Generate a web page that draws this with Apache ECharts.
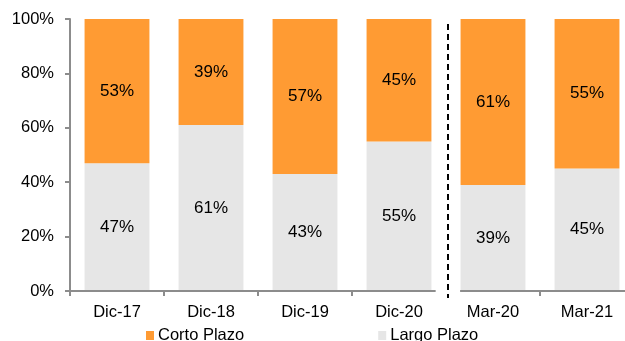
<!DOCTYPE html>
<html><head><meta charset="utf-8">
<script src="https://cdn.jsdelivr.net/npm/echarts@6/dist/echarts.min.js"></script>
<style>html,body{margin:0;padding:0;background:#fff}#c{width:625px;height:341px}</style>
</head><body><div id="c"></div>
<script>
const categories = ['Dic-17','Dic-18','Dic-19','Dic-20','Mar-20','Mar-21'];
const largoPlazo = [47, 61, 43, 55, 39, 45];
const cortoPlazo = [53, 39, 57, 45, 61, 55];

const FONT = 'Liberation Sans, Arial, sans-serif';
const FS = 16.5;
const LFS = 17;
const AXIS_COLOR = '#8c8c8c';

const chart = echarts.init(document.getElementById('c'), null, {renderer:'canvas'});
const pct = p => p.value + '%';
chart.setOption({
  animation: false,
  textStyle: {fontFamily: FONT},
  grid: {left: 70, top: 19, width: 564, height: 272, containLabel: false, outerBoundsMode: 'none'},
  legend: {
    data: ['Corto Plazo','Largo Plazo'],
    left: 146, top: 327, icon: 'rect', itemWidth: 8, itemHeight: 9, itemGap: 134,
    textStyle: {fontFamily: FONT, fontSize: FS, color: '#000', padding: [0,0,0,-1]},
    padding: 0
  },
  xAxis: [{
    type: 'category', data: categories, boundaryGap: true,
    axisLine: {show: false},
    axisTick: {show: true, length: 5, lineStyle: {color: AXIS_COLOR, width: 2},
      interval: function(i){ return i !== 4; }},
    axisLabel: {fontFamily: FONT, fontSize: FS, color: '#000', margin: 13}
  },{
    type: 'value', min: 0, max: 6, show: false
  }],
  yAxis: {
    type: 'value', min: 0, max: 100, interval: 20,
    axisLine: {show: true, lineStyle: {color: AXIS_COLOR, width: 2}},
    axisTick: {show: true, length: 5, lineStyle: {color: AXIS_COLOR, width: 2}},
    splitLine: {show: false},
    axisLabel: {formatter: '{value}%', fontFamily: FONT, fontSize: FS, color: '#000', margin: 16}
  },
  series: [{
    name: 'Largo Plazo', type: 'bar', stack: 'tot', data: largoPlazo, barWidth: '69%',
    itemStyle: {color: '#E6E6E6'},
    label: {show: true, position: 'inside', formatter: pct, fontFamily: FONT, fontSize: LFS, color: '#000'}
  },{
    name: 'Corto Plazo', type: 'bar', stack: 'tot', data: cortoPlazo, barWidth: '69%',
    itemStyle: {color: '#FF9B33'},
    label: {show: true, position: 'inside', formatter: pct, fontFamily: FONT, fontSize: LFS, color: '#000'}
  },{
    name: 'axisline', type: 'line', xAxisIndex: 1, data: [], clip: false, silent: true,
    markLine: {
      silent: true, symbol: 'none', label: {show: false},
      lineStyle: {color: AXIS_COLOR, width: 2, type: 'solid'},
      data: [
        [{coord: [0, 0]}, {coord: [3.89, 0]}],
        [{coord: [4.15, 0]}, {coord: [6, 0]}]
      ]
    }
  }]
});
// dashed separator between the Dic and Mar groups, positioned through the axes
const sepTop = chart.convertToPixel({xAxisIndex: 1, yAxisIndex: 0}, [4.02, 98.2]);
const sepBot = chart.convertToPixel({xAxisIndex: 1, yAxisIndex: 0}, [4.02, -2.6]);
chart.setOption({
  graphic: [{
    type: 'line', silent: true, z: 100,
    shape: {x1: Math.round(sepTop[0]), y1: sepTop[1], x2: Math.round(sepBot[0]), y2: sepBot[1]},
    style: {stroke: '#000', lineWidth: 2, lineDash: [6, 4]}
  }]
});
</script></body></html>
